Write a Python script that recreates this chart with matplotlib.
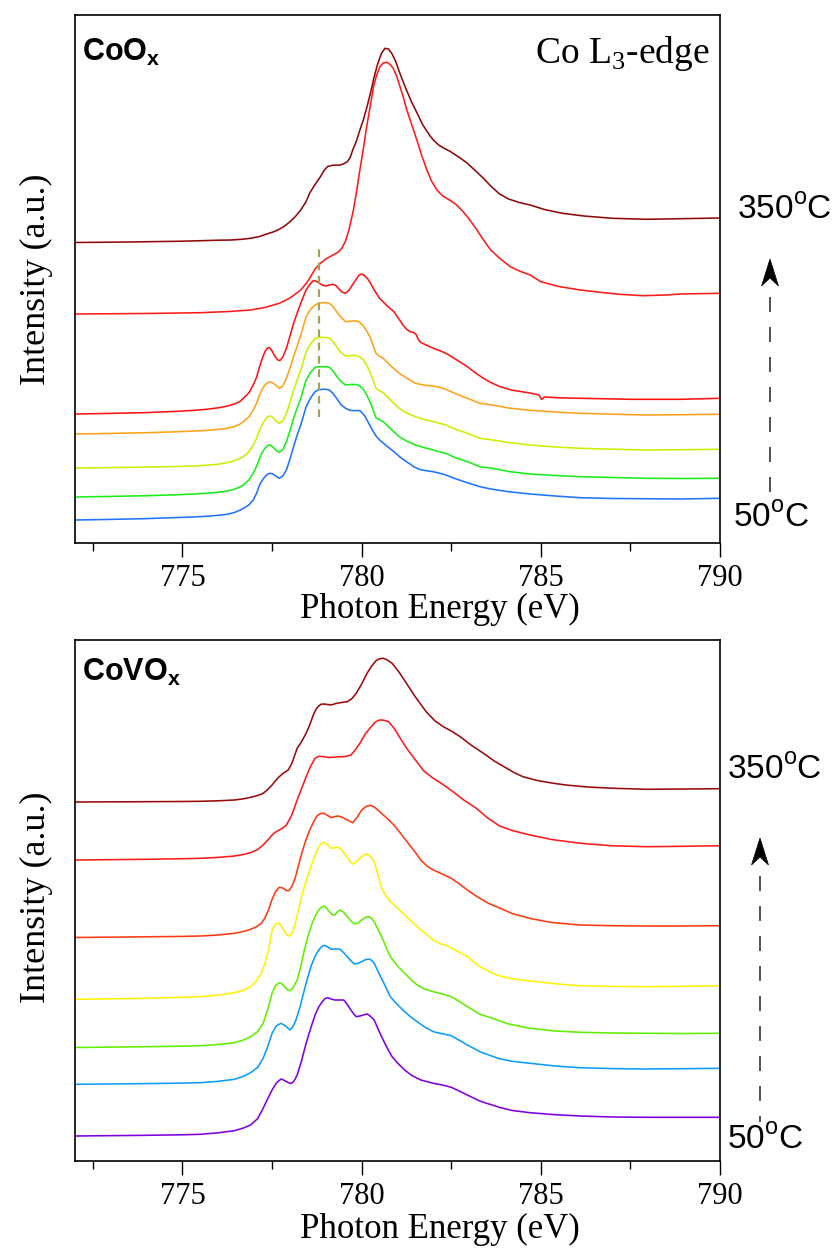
import matplotlib
matplotlib.use("Agg")
import matplotlib.pyplot as plt
from matplotlib.lines import Line2D
from matplotlib.patches import Polygon
from matplotlib.ticker import MultipleLocator

plt.rcParams['font.family'] = ['Liberation Serif', 'DejaVu Serif']
plt.rcParams['mathtext.fontset'] = 'custom'
plt.rcParams['mathtext.rm'] = 'Liberation Serif'
plt.rcParams['mathtext.bf'] = 'Liberation Sans:bold'
plt.rcParams['mathtext.sf'] = 'Liberation Sans'

# (photon energy in eV, intensity above the curve's own baseline, a.u.)
# ---------------- CoOx, Co L3-edge ----------------
coox_350 = [(772.0, 0), (773.5, 0.5), (775.0, 1.3), (775.5, 1.8), (776.0, 2.3), (776.35, 2.5),
            (776.65, 3.2), (776.9, 4.2), (777.15, 6.0), (777.35, 8.5), (777.55, 10.8), (777.7, 13.2),
            (777.85, 16.5), (778.0, 20.8), (778.15, 26), (778.3, 32.5), (778.45, 41), (778.55, 49.5),
            (778.7, 58), (778.85, 65.8), (778.95, 72), (779.05, 76), (779.2, 77.3), (779.4, 77.5),
            (779.5, 78.8), (779.6, 80.8), (779.68, 85), (779.75, 92.5), (779.85, 101), (779.95, 112.5),
            (780.05, 123), (780.15, 135.8), (780.25, 150), (780.35, 165.8), (780.45, 179), (780.55, 189),
            (780.65, 194.2), (780.75, 193.5), (780.85, 188.5), (780.95, 181), (781.05, 170.8),
            (781.15, 161.5), (781.25, 152.5), (781.4, 140), (781.55, 129.2), (781.7, 118), (781.8, 112.5),
            (781.9, 107), (782.0, 102.5), (782.15, 97.5), (782.3, 94.2), (782.45, 91.5), (782.55, 89.2),
            (782.75, 84.5), (782.95, 79.2), (783.15, 72.5), (783.4, 64.2), (783.6, 56.5), (783.85, 48.5),
            (784.1, 43.5), (784.4, 40), (784.7, 37.5), (785.1, 33), (785.6, 29.2), (786.2, 26.5),
            (787.0, 24.2), (787.95, 23.2), (788.9, 23.8), (790.0, 24.5)]

coox_300 = [(772.0, 0), (774.0, 0.5), (775.5, 1.3), (776.3, 2.5), (776.9, 4), (777.3, 6.5), (777.7, 10.7),
            (778.0, 16), (778.3, 24), (778.45, 30.5), (778.55, 35.7), (778.7, 45), (778.85, 50.7),
            (779.0, 55), (779.2, 59), (779.35, 62), (779.45, 66), (779.55, 73), (779.65, 85),
            (779.77, 104), (779.86, 123), (779.95, 144), (780.05, 166), (780.14, 187.3), (780.24, 208),
            (780.33, 227.3), (780.42, 239), (780.51, 247.3), (780.6, 251), (780.7, 251.7), (780.8, 249.5),
            (780.88, 245.7), (780.98, 237.5), (781.07, 227.3), (781.17, 216), (781.26, 204), (781.4, 189),
            (781.54, 174), (781.68, 158), (781.82, 144), (781.95, 133), (782.1, 124), (782.25, 118.5),
            (782.37, 115.7), (782.5, 113), (782.65, 109), (782.8, 103.5), (782.95, 97.3), (783.2, 85),
            (783.4, 74), (783.6, 64), (783.85, 55.7), (784.15, 47.3), (784.4, 43), (784.7, 39),
            (785.0, 32.3), (785.5, 27.5), (786.1, 24), (786.7, 21.5), (787.2, 19.7), (787.85, 18.3),
            (788.5, 19), (788.9, 20), (790.0, 20.7)]

coox_250 = [(772.0, 0), (773.0, 0.6), (774.0, 1.4), (774.8, 2.6), (775.3, 3.6), (775.7, 4.8), (776.0, 6.2),
            (776.25, 7.9), (776.45, 10), (776.6, 12.5), (776.7, 15.7),
            (776.85, 21), (776.975, 29), (777.07, 37), (777.15, 47.3), (777.23, 56), (777.3, 62.3),
            (777.37, 66), (777.43, 66.5), (777.5, 63), (777.58, 57.5), (777.66, 54), (777.72, 53.5),
            (777.8, 57), (777.9, 65.7), (778.0, 78), (778.1, 90.7), (778.2, 101), (778.3, 110.7),
            (778.38, 118), (778.45, 124), (778.55, 129.5), (778.65, 133.3), (778.72, 133), (778.8, 131.3),
            (778.9, 129), (779.0, 128), (779.1, 129), (779.2, 129.7), (779.28, 128.5), (779.35, 125.7),
            (779.45, 122), (779.55, 120.7), (779.65, 124), (779.75, 129.5), (779.85, 135), (779.93, 139),
            (780.0, 140), (780.08, 138.5), (780.17, 135), (780.25, 130.7), (780.35, 124), (780.5, 115.7),
            (780.7, 108.5), (780.9, 102.3), (781.05, 94.5), (781.15, 89), (781.25, 85), (781.35, 82.3),
            (781.45, 81.5), (781.52, 79.5), (781.58, 74.5), (781.65, 71.5), (781.8, 69), (782.0, 65.7),
            (782.2, 63), (782.35, 60.7), (782.5, 57.5), (782.7, 53), (782.95, 47.3), (783.2, 40.5),
            (783.4, 35.7), (783.6, 31.5), (783.85, 27.5), (784.2, 23.8), (784.7, 21), (784.95, 19),
            (785.02, 14.5), (785.1, 17), (785.5, 16.2), (786.1, 15.7), (787.5, 14.7), (788.9, 14.7),
            (790.0, 15.7)]

coox_200 = [(772.0, 0), (773.0, 0.6), (774.0, 1.3), (774.8, 2.2), (775.3, 2.9), (775.7, 3.7), (776.0, 4.6),
            (776.25, 5.7), (776.45, 7.5), (776.6, 9.8), (776.7, 12.3), (776.85, 17), (776.975, 24),
            (777.07, 31), (777.15, 39), (777.23, 45), (777.3, 49), (777.38, 51.5), (777.45, 52),
            (777.52, 51), (777.6, 49), (777.7, 45.7), (777.8, 48), (777.9, 55.7), (778.0, 66),
            (778.1, 77.3), (778.2, 88), (778.3, 99), (778.45, 117.3), (778.58, 125), (778.7, 129),
            (778.8, 130.8), (778.9, 131.3), (779.0, 131.3), (779.1, 130.7), (779.2, 127.5), (779.3, 122.3),
            (779.42, 117), (779.55, 112.3), (779.7, 112.8), (779.85, 113.3), (779.95, 111.5), (780.05, 108),
            (780.15, 102.5), (780.25, 95.7), (780.33, 87.5), (780.4, 80.7), (780.5, 77.5), (780.6, 75.7),
            (780.8, 68.5), (781.05, 60.7), (781.25, 56), (781.5, 50.7), (781.75, 48.8), (782.0, 48),
            (782.2, 46.5), (782.35, 44.7), (782.6, 40.5), (782.95, 35.7), (783.3, 30.7), (783.65, 29),
            (784.1, 26), (784.7, 23.7), (785.4, 22), (786.1, 20.7), (787.0, 19.8), (787.95, 19),
            (789.0, 19.3), (790.0, 19.7)]

coox_150 = [(772.0, 0), (773.0, 0.4), (774.0, 0.9), (774.8, 1.5), (775.3, 2.0), (775.7, 2.8), (776.0, 3.8),
            (776.25, 5.3), (776.45, 7.3), (776.6, 9.5), (776.7, 11.3), (776.85, 16), (776.975, 23),
            (777.07, 30), (777.15, 38), (777.23, 44), (777.3, 48), (777.38, 51.5), (777.45, 52),
            (777.52, 50.5), (777.6, 47.3), (777.7, 44.7), (777.8, 47), (777.9, 54.7), (778.0, 65.5),
            (778.1, 78), (778.2, 88), (778.3, 98), (778.45, 116.3), (778.58, 124.5), (778.7, 129.7),
            (778.8, 130.5), (778.9, 130.7), (779.0, 130.5), (779.1, 129.7), (779.2, 126.5), (779.3, 121.3),
            (779.42, 115.5), (779.55, 112), (779.7, 112.5), (779.85, 112.5), (779.95, 111), (780.05, 108),
            (780.15, 102), (780.25, 94.7), (780.33, 86.5), (780.4, 79.7), (780.5, 77), (780.6, 75.3),
            (780.8, 68), (781.05, 59.7), (781.25, 55), (781.5, 51.3), (781.75, 48.5), (782.0, 46.3),
            (782.2, 44.5), (782.35, 43), (782.6, 39), (782.95, 34.7), (783.3, 29.7), (783.65, 28),
            (784.1, 25.5), (784.7, 23), (785.4, 21), (786.1, 19.7), (787.0, 18.8), (787.95, 18),
            (789.0, 18.3), (790.0, 18.7)]

coox_100 = [(772.0, 0), (773.0, 0.6), (774.0, 1.3), (774.8, 2.2), (775.3, 2.9), (775.7, 3.8), (776.0, 4.8),
            (776.25, 6), (776.45, 7.8), (776.6, 10), (776.7, 12), (776.85, 17), (776.975, 23.7),
            (777.07, 31), (777.15, 38.7), (777.23, 45), (777.3, 48.7), (777.38, 51.5), (777.45, 52),
            (777.52, 50), (777.6, 47), (777.7, 44.7), (777.8, 47.5), (777.9, 55.3), (778.0, 66.5),
            (778.1, 78.7), (778.2, 89), (778.3, 98.7), (778.45, 117), (778.58, 125), (778.7, 129.7),
            (778.8, 130.3), (778.9, 130.3), (779.0, 130.3), (779.1, 129.7), (779.2, 126), (779.3, 121),
            (779.42, 115.5), (779.55, 112), (779.7, 112.5), (779.85, 112.5), (779.95, 111), (780.05, 107.7),
            (780.15, 101.5), (780.25, 93.7), (780.33, 86), (780.4, 79.3), (780.5, 77), (780.6, 75.3),
            (780.8, 68.5), (781.05, 60.3), (781.25, 56), (781.5, 52), (781.75, 49.3), (782.0, 47),
            (782.2, 45), (782.35, 43.7), (782.6, 39.5), (782.95, 35.3), (783.3, 30.3), (783.65, 28.7),
            (784.1, 25.5), (784.7, 23), (785.4, 21.5), (786.1, 20.3), (787.0, 19.5), (787.95, 18.7),
            (789.0, 18.5), (790.0, 18.7)]

coox_50 = [(772.0, 0), (773.0, 0.6), (774.0, 1.4), (774.8, 2.4), (775.3, 3.0), (775.7, 3.8), (776.0, 4.7),
           (776.25, 5.7), (776.45, 7.5), (776.6, 9.8), (776.7, 11.7), (776.85, 15), (776.975, 20),
           (777.07, 27), (777.15, 35), (777.23, 40), (777.3, 43.3), (777.38, 46), (777.45, 46.7),
           (777.52, 46), (777.6, 44), (777.7, 41.7), (777.8, 44), (777.9, 50), (778.0, 61), (778.1, 73.3),
           (778.2, 85), (778.3, 95), (778.45, 113.3), (778.58, 122.5), (778.7, 128.3), (778.8, 130.3),
           (778.9, 130.7), (779.0, 130.7), (779.1, 130), (779.2, 126.5), (779.3, 121.7), (779.42, 115.5),
           (779.55, 111.7), (779.65, 110), (779.75, 109.3), (779.85, 109.5), (779.95, 109.3), (780.02, 107),
           (780.1, 103.3), (780.2, 96.5), (780.3, 90), (780.4, 84), (780.5, 80), (780.7, 74), (780.9, 68.3),
           (781.05, 63.5), (781.25, 58.3), (781.45, 53.5), (781.6, 50.7), (781.8, 49.3), (782.0, 48.3),
           (782.2, 46.5), (782.35, 45), (782.6, 41.5), (782.95, 37.3), (783.3, 33.3), (783.65, 30.7),
           (784.1, 28.3), (784.7, 26), (785.4, 24), (786.1, 22.3), (787.0, 21.5), (788.9, 21), (790.0, 21.7)]

coox_spectra = [coox_50, coox_100, coox_150, coox_200, coox_250, coox_300, coox_350]
coox_offsets = [23, 46, 75, 109, 129, 229, 300.5]
coox_colors = ['#1f74ff', '#19ee19', '#c6f200', '#ffa21a', '#ff1414', '#ff1a1a', '#8e0a0a']
coox_marker_e = 778.8            # dashed reference line (eV)
coox_marker_span = (126, 296)

# ---------------- CoVOx, Co L3-edge ----------------
covox_350 = [(772.0, 0), (774.0, 0.3), (775.0, 0.5), (775.5, 0.7), (776.0, 1.2), (776.45, 2), (776.7, 3.2),
             (776.9, 4.7), (777.1, 6.5), (777.25, 8.7),
             (777.38, 12.5), (777.5, 17), (777.6, 21.5), (777.7, 25.3), (777.82, 29), (777.95, 32),
             (778.05, 38.5), (778.2, 53.7), (778.3, 59), (778.45, 68.7), (778.55, 77), (778.65, 87),
             (778.73, 93), (778.8, 96), (778.87, 97.8), (778.95, 98), (779.05, 97.5), (779.15, 97),
             (779.28, 98.5), (779.4, 99.3), (779.5, 99.8), (779.6, 100.3), (779.73, 103.5), (779.85, 108.7),
             (780.0, 118), (780.15, 128.7), (780.28, 136), (780.4, 141.3), (780.5, 143.3), (780.6, 143.7),
             (780.72, 142), (780.85, 138.7), (781.05, 129.5), (781.25, 118.7), (781.5, 105), (781.8, 90.3),
             (782.05, 81), (782.28, 75.3), (782.5, 71), (782.75, 65.3), (783.05, 57), (783.4, 48.7),
             (783.7, 41), (784.05, 33.7), (784.25, 29.5), (784.5, 25.3), (784.9, 21.5), (785.3, 19),
             (785.7, 17), (786.3, 15), (787.05, 13.7), (787.95, 12.7), (789.0, 13), (790.0, 13.3)]

covox_300 = [(772.0, 0), (774.0, 0.7), (775.0, 1.3), (775.5, 1.7), (776.0, 2.6), (776.45, 4), (776.7, 5.5),
             (776.9, 7.3), (777.1, 10.5), (777.25, 15),
             (777.38, 20), (777.5, 25), (777.6, 28), (777.7, 30), (777.8, 32), (777.9, 35), (778.05, 45),
             (778.2, 60), (778.32, 71), (778.45, 83.3), (778.58, 94), (778.7, 101.7), (778.8, 103.8),
             (778.95, 103.3), (779.08, 102.5), (779.2, 102.7), (779.35, 103.3), (779.5, 103.3), (779.6, 104),
             (779.7, 105), (779.82, 110), (779.95, 116.7), (780.1, 126), (780.25, 132.7), (780.38, 138),
             (780.5, 140), (780.62, 139.8), (780.75, 138.3), (780.9, 132), (781.05, 123.3), (781.25, 112),
             (781.5, 100), (781.75, 88.5), (782.0, 81.7), (782.25, 76), (782.55, 68.3), (782.85, 60),
             (783.2, 51.7), (783.5, 42.5), (783.85, 34), (784.2, 29.5), (784.7, 25), (785.3, 20.5),
             (786.1, 16.7), (787.0, 14.2), (787.95, 13.3), (789.0, 13.7), (790.0, 14.3)]

covox_250 = [(772.0, 0), (774.0, 0.7), (775.0, 1.1), (775.5, 1.5), (776.0, 2.5), (776.45, 4.2), (776.7, 6),
             (776.9, 8.2), (777.05, 10.5), (777.2, 14.2),
             (777.3, 19.5), (777.4, 27.5), (777.5, 38.2), (777.6, 46), (777.7, 50.2), (777.8, 49.5),
             (777.9, 47), (777.97, 46.8), (778.05, 50.8), (778.15, 60), (778.3, 80.8), (778.42, 95),
             (778.55, 107.5), (778.65, 115), (778.75, 121.5), (778.85, 124), (778.95, 124.2), (779.05, 122),
             (779.15, 119.8), (779.25, 121), (779.35, 121.5), (779.47, 120), (779.6, 117.5), (779.75, 114.8),
             (779.88, 120.5), (780.0, 127.5), (780.12, 131), (780.25, 132.2), (780.37, 130), (780.5, 125.8),
             (780.7, 119.5), (780.9, 112.5), (781.1, 103.5), (781.3, 94.2), (781.5, 85), (781.65, 77.5),
             (781.82, 71.5), (782.0, 67.5), (782.25, 63.5), (782.5, 59.2), (782.75, 53), (782.95, 47.5),
             (783.15, 42.5), (783.3, 39.2), (783.55, 34), (783.85, 29.5), (784.2, 24), (784.7, 19),
             (785.3, 15), (786.1, 12.5), (787.0, 11.8), (787.95, 11.5), (789.0, 11.5), (790.0, 11.8)]

covox_200 = [(772.0, 0), (774.0, 1), (775.0, 2), (775.5, 2.6), (776.0, 4.2), (776.45, 6.6), (776.7, 9),
             (776.9, 12.6), (777.05, 18), (777.2, 26),
             (777.3, 36), (777.4, 49.3), (777.5, 69.3), (777.6, 75.5), (777.7, 76), (777.78, 72),
             (777.85, 67.6), (777.93, 63.8), (778.0, 63.3), (778.07, 67), (778.15, 76), (778.3, 99.3),
             (778.42, 115), (778.55, 129.3), (778.68, 142), (778.8, 152.6), (778.88, 156), (778.95, 157),
             (779.05, 154.5), (779.15, 151), (779.25, 151.5), (779.35, 152), (779.45, 149), (779.55, 144.3),
             (779.65, 139), (779.75, 135.3), (779.85, 137.5), (779.95, 141), (780.05, 144), (780.15, 145.3),
             (780.25, 142.5), (780.35, 137.6), (780.45, 125), (780.55, 112), (780.65, 105), (780.8, 98),
             (781.05, 89.3), (781.3, 81), (781.55, 72.6), (781.8, 65), (782.0, 59.3), (782.2, 55.5),
             (782.4, 53.3), (782.65, 48.5), (782.95, 42.6), (783.3, 32.6), (783.6, 27), (783.85, 23.3),
             (784.2, 20.5), (784.7, 18.3), (785.4, 15.5), (786.1, 13.6), (787.0, 12.9), (787.95, 12.6),
             (789.0, 13), (790.0, 13.6)]

covox_150 = [(772.0, 0), (774.0, 0.8), (775.0, 1.3), (775.5, 1.8), (776.0, 3), (776.45, 4.8), (776.7, 7.5),
             (776.9, 10.8), (777.1, 16), (777.25, 24.2),
             (777.38, 38), (777.5, 54.2), (777.6, 62), (777.7, 64.8), (777.78, 63.5), (777.85, 60.8),
             (777.93, 57.5), (778.0, 56.8), (778.08, 59.5), (778.2, 67.5), (778.3, 81), (778.4, 97.5),
             (778.5, 111), (778.6, 122.5), (778.7, 131), (778.8, 137.5), (778.88, 140.5), (778.95, 141.5),
             (779.02, 139.5), (779.1, 135.8), (779.17, 133), (779.25, 132.5), (779.32, 135.5), (779.4, 137.5),
             (779.5, 135), (779.6, 130.8), (779.7, 126.5), (779.8, 123.5), (779.9, 124.5), (780.0, 127.5),
             (780.1, 130), (780.2, 130.8), (780.28, 129), (780.35, 125.8), (780.47, 117), (780.6, 107.5),
             (780.7, 98.5), (780.8, 90.8), (781.0, 81.5), (781.2, 74.2), (781.4, 67), (781.55, 62.5),
             (781.75, 58.5), (782.0, 55.8), (782.25, 53.5), (782.5, 50.8), (782.75, 45.5), (782.95, 40.8),
             (783.15, 36.5), (783.3, 33.2), (783.65, 29.2), (784.1, 23.5), (784.7, 19.2), (785.4, 16.5),
             (786.1, 15.2), (787.0, 14.5), (787.95, 14.2), (789.0, 14), (790.0, 14.2)]

covox_100 = [(772.0, 0), (774.0, 0.7), (775.0, 1.2), (775.5, 1.6), (776.0, 3), (776.45, 5), (776.7, 8),
             (776.9, 11.6), (777.1, 17), (777.25, 26),
             (777.38, 38), (777.5, 51), (777.62, 58.5), (777.75, 61), (777.82, 59.5), (777.9, 57.6),
             (778.0, 54.3), (778.07, 57), (778.15, 62.6), (778.27, 76), (778.4, 94.3), (778.5, 107.5),
             (778.6, 119.3), (778.7, 128), (778.8, 134.3), (778.88, 137.5), (778.95, 139), (779.05, 137.5),
             (779.15, 135), (779.27, 135.5), (779.4, 135), (779.5, 131.5), (779.6, 127.6), (779.7, 123.5),
             (779.8, 120.3), (779.9, 121), (780.0, 122.6), (780.1, 124.5), (780.2, 125.3), (780.28, 124),
             (780.35, 121), (780.47, 112), (780.6, 102.6), (780.7, 95), (780.8, 87.6), (781.0, 79.5),
             (781.2, 72.6), (781.4, 66.5), (781.55, 62.6), (781.75, 57.5), (782.0, 52.6), (782.25, 50.5),
             (782.5, 48.6), (782.75, 43.5), (782.95, 39.3), (783.15, 35.5), (783.3, 32.6), (783.5, 30),
             (783.65, 28), (783.85, 25.5), (784.2, 23), (784.7, 21), (785.4, 18.3), (786.1, 16.6),
             (787.0, 15.7), (787.95, 15.3), (789.0, 15.6), (790.0, 16)]

covox_50 = [(772.0, 0), (774.0, 0.7), (775.0, 1.2), (775.5, 1.7), (776.0, 3.2), (776.45, 5.3), (776.7, 8),
            (776.9, 11), (777.1, 17.5), (777.25, 27.7),
            (777.38, 37.5), (777.5, 46), (777.62, 53), (777.75, 57), (777.82, 56), (777.9, 54.3), (778.0, 52.7),
            (778.05, 52.7), (778.12, 55.5), (778.2, 61), (778.32, 75), (778.45, 92.7), (778.58, 108),
            (778.7, 121), (778.8, 129), (778.9, 134.3), (778.98, 137.5), (779.05, 138.3), (779.15, 137),
            (779.25, 136), (779.38, 136), (779.5, 136), (779.6, 131.5), (779.7, 126), (779.78, 122),
            (779.85, 119.3), (779.95, 120), (780.05, 121), (780.15, 122), (780.22, 120.5), (780.35, 116),
            (780.47, 106), (780.6, 96), (780.72, 87.5), (780.85, 79.3), (781.0, 73), (781.2, 66),
            (781.4, 60.5), (781.65, 56), (782.0, 52.7), (782.25, 51), (782.5, 48.7), (782.75, 44.5),
            (782.95, 41), (783.15, 37.5), (783.3, 35), (783.5, 32.5), (783.65, 31), (783.85, 28.5),
            (784.2, 25.5), (784.7, 23.3), (785.4, 21.3), (786.1, 20), (787.0, 19), (787.95, 18.7),
            (789.0, 18.7), (790.0, 18.7)]

covox_spectra = [covox_50, covox_100, covox_150, covox_200, covox_250, covox_300, covox_350]
covox_offsets = [25, 76.7, 113.5, 161.7, 223.5, 301, 359]
covox_colors = ['#8000e0', '#0b9bff', '#5ef000', '#fff200', '#ff3a10', '#ff1a1a', '#9a0a0a']

W, H = 836, 1250
fig = plt.figure(figsize=(W / 100, H / 100), dpi=100)


def fx(x):
    return x / W


def fy(y):
    return 1 - y / H


ax1 = fig.add_axes([fx(75), fy(543), fx(720) - fx(75), (543 - 15) / H])
ax2 = fig.add_axes([fx(75), fy(1161), fx(720) - fx(75), (1161 - 640) / H])

for spec, off, c in zip(coox_spectra, coox_offsets, coox_colors):
    e, s = zip(*spec)
    ax1.plot(e, [v + off for v in s], color=c, lw=1.15, solid_joinstyle='round')
ax1.plot([coox_marker_e, coox_marker_e], coox_marker_span, color='#a3a353', lw=1.6,
         linestyle=(0, (3.5, 2.5)))
ax1.set_ylim(0, 528)

for spec, off, c in zip(covox_spectra, covox_offsets, covox_colors):
    e, s = zip(*spec)
    ax2.plot(e, [v + off for v in s], color=c, lw=1.15, solid_joinstyle='round')
ax2.set_ylim(0, 521)

for ax, ly in ((ax1, -0.095), (ax2, -0.1)):
    ax.set_xlim(772, 790)
    ax.xaxis.set_major_locator(MultipleLocator(5))
    ax.xaxis.set_minor_locator(MultipleLocator(2.5))
    ax.set_yticks([])
    ax.tick_params(axis='x', which='major', direction='out', length=10, width=1.0,
                   labelsize=22, pad=5)
    ax.tick_params(axis='x', which='minor', direction='out', length=5.5, width=1.0)
    for sp in ax.spines.values():
        sp.set_linewidth(1.2)
    ax.set_xlabel('Photon Energy (eV)', fontsize=25)
    ax.xaxis.set_label_coords(0.566, ly)

# y labels
fig.text(fx(36), fy(279), 'Intensity (a.u.)', rotation=90, fontsize=26, ha='center', va='center')
fig.text(fx(36), fy(897), 'Intensity (a.u.)', rotation=90, fontsize=26, ha='center', va='center')

# panel titles
fig.text(fx(82), fy(37), r'CoO$_\mathbf{x}$', family='Liberation Sans', weight='bold',
         fontsize=22, ha='left', va='top')
fig.text(fx(82), fy(657), r'CoVO$_\mathbf{x}$', family='Liberation Sans', weight='bold',
         fontsize=22, ha='left', va='top')
fig.text(fx(710), fy(63), r'Co L$_\mathrm{3}$-edge', fontsize=27, ha='right', va='baseline')

# temperature labels
temp_kw = dict(family='Liberation Sans', fontsize=24, ha='left', va='center')
fig.text(fx(737), fy(210), r'350$^\mathsf{o}$C', **temp_kw)
fig.text(fx(733), fy(518), r'50$^\mathsf{o}$C', **temp_kw)
fig.text(fx(727), fy(770), r'350$^\mathsf{o}$C', **temp_kw)
fig.text(fx(727), fy(1140), r'50$^\mathsf{o}$C', **temp_kw)


# dashed temperature arrows
def temp_arrow(x, y_tip, y_end):
    fig.add_artist(Line2D([fx(x), fx(x)], [fy(y_tip + 38), fy(y_end)], transform=fig.transFigure,
                          color='#333333', lw=1.2, linestyle=(0, (9, 9))))
    head = Polygon([[fx(x), fy(y_tip)], [fx(x - 8.5), fy(y_tip + 27)], [fx(x), fy(y_tip + 19)],
                    [fx(x + 8.5), fy(y_tip + 27)]], closed=True, transform=fig.transFigure,
                   facecolor='black', edgecolor='black', lw=0.5)
    fig.add_artist(head)


temp_arrow(770, 259, 500)
temp_arrow(760, 838, 1122)

fig.savefig('out.png', dpi=100)
